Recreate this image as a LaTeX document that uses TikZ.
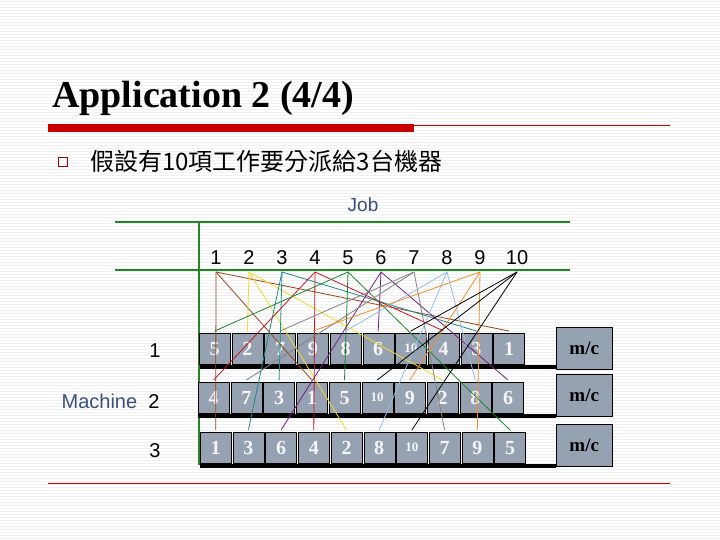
\documentclass[tikz,border=0pt]{standalone}
\usepackage{fontspec}
\setmainfont{Liberation Serif}
\newfontfamily\arialf{Liberation Sans}
\newfontfamily\cjk{Noto Sans CJK TC}
\definecolor{boxfill}{RGB}{150,162,178}
\definecolor{labblue}{RGB}{60,80,120}
\definecolor{grn}{RGB}{40,130,40}
\definecolor{redbar}{RGB}{200,0,0}
\definecolor{c1}{RGB}{150,70,30}
\definecolor{c2}{RGB}{240,220,40}
\definecolor{c3}{RGB}{30,140,140}
\definecolor{c4}{RGB}{200,20,40}
\definecolor{c5}{RGB}{30,130,50}
\definecolor{c6}{RGB}{120,30,130}
\definecolor{c7}{RGB}{130,130,130}
\definecolor{c8}{RGB}{150,190,230}
\definecolor{c9}{RGB}{240,140,40}
\definecolor{c10}{RGB}{0,0,0}
\tikzset{
 jbox/.style={draw=black,fill=boxfill,minimum width=31pt,minimum height=31pt,inner sep=0pt,
   text=white!92!gray,font=\bfseries\fontsize{20}{20}\selectfont,anchor=north west},
 mcbox/.style={draw=black,fill=boxfill,minimum width=56pt,minimum height=42pt,inner sep=0pt,
   font=\bfseries\fontsize{19}{19}\selectfont,anchor=north west},
 jnum/.style={font=\arialf\fontsize{20}{20}\selectfont},
 bar/.style={line width=4pt,black},
 gline/.style={grn,line width=1.8pt}
}
\begin{document}
\begin{tikzpicture}[x=1pt,y=-1pt]
\useasboundingbox (0,0) rectangle (720,540);
\fill[white] (0,0) rectangle (720,540);
\foreach \k in {0,...,179}{\draw[gray!12,line width=0.5pt] (0,{\k*3+1}) -- (720,{\k*3+1});}
\node[anchor=base west,font=\bfseries\fontsize{38}{38}\selectfont,inner sep=0pt] (title) at (52,108) {Application 2 (4/4)};
\draw[redbar,line width=0.7pt] (48,125) -- (670,125);
\fill[redbar] (48,124) rectangle (414,132);
\node[draw=redbar!80!black,line width=1pt,minimum size=9pt,inner sep=0pt] (bul) at (63,162) {};
\node[anchor=base west,font=\cjk\fontsize{24}{24}\selectfont,inner sep=0pt] (sub) at (90,171) {假設有10項工作要分派給3台機器};
\node[labblue,font=\arialf\fontsize{19}{19}\selectfont] (joblab) at (363,205) {Job};
\draw[gline] (115,222) -- (570,222);
\draw[gline] (115,270) -- (570,270);
\draw[gline] (199,222) -- (199,465);
\foreach \j/\x in {1/216,2/249,3/282,4/315,5/348,6/381,7/414,8/447,9/480,10/517}{
  \node[jnum] (n\j) at (\x,258) {\j};
  \coordinate (j\j) at (\x,272);
}
\node[font=\arialf\fontsize{20}{20}\selectfont] (m1) at (155,351) {1};
\node[font=\arialf\fontsize{20}{20}\selectfont,anchor=east] (m2) at (163,401) {\textcolor{labblue}{Machine}\ \ 2};
\node[font=\arialf\fontsize{20}{20}\selectfont] (m3) at (155,451) {3};
% bars
\draw[bar] (200,367) -- (556,367);
\draw[bar] (198,416) -- (556,416);
\draw[bar] (200,466) -- (556,466);
% boxes
\foreach \r/\y/\xs/\lst in {1/333/199/{5,2,7,9,8,6,10,4,3,1},2/382/198/{4,7,3,1,5,10,9,2,8,6},3/432/200/{1,3,6,4,2,8,10,7,9,5}}{
  \foreach \jj [count=\i from 0] in \lst {
    \ifnum\jj=10
      \node[jbox,font=\bfseries\fontsize{13}{13}\selectfont] (r\r b\jj) at ({\xs+\i*32.7},\y) {\jj};
    \else
      \node[jbox] (r\r b\jj) at ({\xs+\i*32.7},\y) {\jj};
    \fi
  }
}
\node[mcbox] (mc1) at (556,327) {m/c};
\node[mcbox] (mc2) at (556,374) {m/c};
\node[mcbox] (mc3) at (556,424) {m/c};
% connectors
\foreach \j in {1,...,10}{
  \foreach \r in {1,2,3}{
    \draw[c\j,line width=0.8pt] (j\j) -- ([yshift=2pt]r\r b\j.north);
  }
}
\draw[redbar,line width=0.8pt] (48,483) -- (670,483);
\end{tikzpicture}
\end{document}
